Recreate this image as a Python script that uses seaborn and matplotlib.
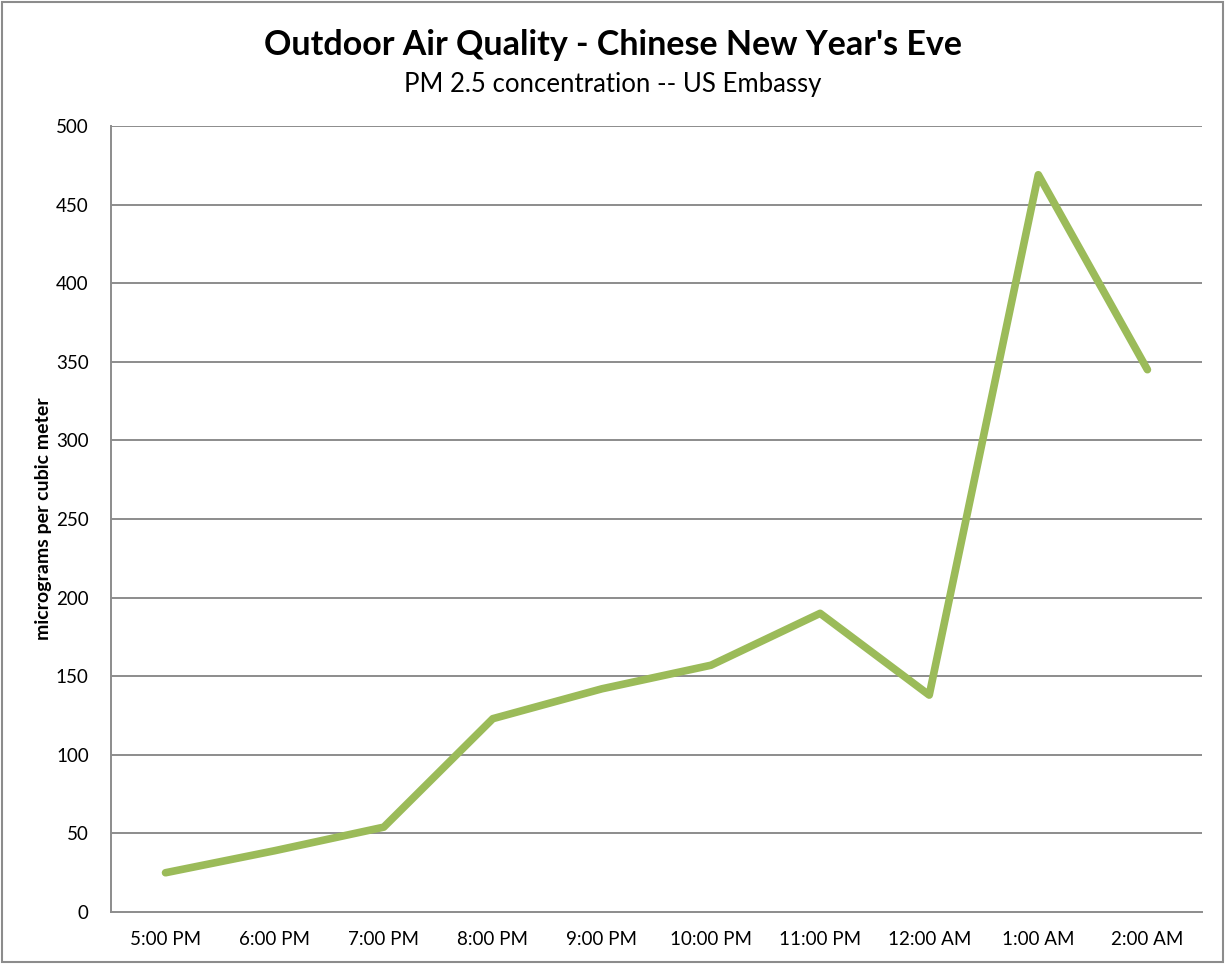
import numpy as np
import pandas as pd
import matplotlib
matplotlib.use('Agg')
import matplotlib.pyplot as plt
import seaborn as sns
from matplotlib.patches import Rectangle

# data
hours = ['5:00 PM', '6:00 PM', '7:00 PM', '8:00 PM', '9:00 PM',
         '10:00 PM', '11:00 PM', '12:00 AM', '1:00 AM', '2:00 AM']
pm25 = [25, 39, 54, 123, 142, 157, 190, 138, 469, 345]

df = pd.DataFrame({'hour': hours, 'pm25': pm25})

sns.set_style('white')
plt.rcParams['font.family'] = ['Lato', 'DejaVu Sans']
plt.rcParams['text.color'] = 'black'
plt.rcParams['axes.labelcolor'] = 'black'
plt.rcParams['xtick.labelcolor'] = 'black'
plt.rcParams['ytick.labelcolor'] = 'black'

fig = plt.figure(figsize=(12.25, 9.64), dpi=100)
ax = fig.add_axes([0.0906, 0.0539, 0.8906, 0.8154])

grid_col = '#8c8c8c'
ax.set_ylim(0, 500)
ax.set_xlim(-0.5, len(hours) - 0.5)
ax.set_yticks(np.arange(0, 501, 50))
for v in np.arange(50, 501, 50):
    ax.axhline(v, color=grid_col, lw=1.4, zorder=1)

sns.lineplot(data=df, x='hour', y='pm25', sort=False, ax=ax,
             color='#9BBB59', lw=5.5, zorder=3,
             solid_capstyle='round', solid_joinstyle='round')

ax.set_xticks(range(len(hours)))
ax.set_xticklabels(hours)
ax.set_xticks(np.arange(-0.5, len(hours), 1), minor=True)
ax.tick_params(axis='x', which='major', length=0, pad=14, labelsize=13.5)
ax.tick_params(axis='x', which='minor', length=6, width=1.4, color=grid_col, direction='out')
ax.tick_params(axis='y', length=6, width=1.4, color=grid_col, direction='out', pad=10, labelsize=13.5)

for s in ['top', 'right']:
    ax.spines[s].set_visible(False)
for s in ['left', 'bottom']:
    ax.spines[s].set_color(grid_col)
    ax.spines[s].set_linewidth(1.4)

ax.set_xlabel('')
ax.set_ylabel('micrograms per cubic meter', fontsize=14, fontweight='bold', labelpad=3)

fig.text(0.5, 0.953, "Outdoor Air Quality - Chinese New Year's Eve",
         ha='center', va='center', fontsize=24.5, fontweight='bold')
fig.text(0.5, 0.912, 'PM 2.5 concentration -- US Embassy',
         ha='center', va='center', fontsize=18.5)

# frame around the whole chart
fig.patches.append(Rectangle((0.002, 0.002), 0.996, 0.996, transform=fig.transFigure,
                             fill=False, edgecolor='#8c8c8c', lw=1.5))

fig.savefig('out.png', dpi=100)
